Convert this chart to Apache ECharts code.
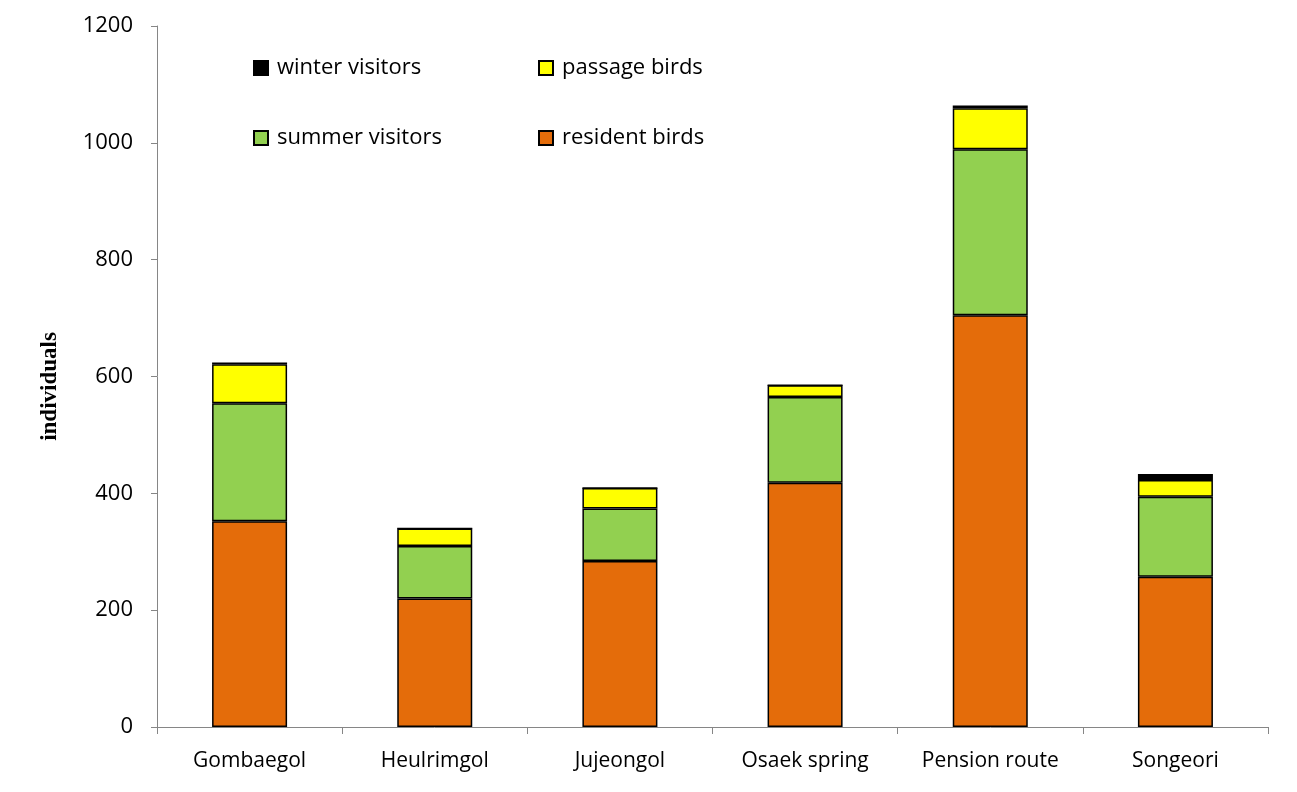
<!DOCTYPE html>
<html>
<head>
<meta charset="utf-8">
<script src="https://cdn.jsdelivr.net/npm/echarts@6/dist/echarts.min.js"></script>
<style>html,body{margin:0;padding:0;background:#fff}#c{width:1297px;height:792px}</style>
</head>
<body>
<div id="c"></div>
<script>
const categories = ['Gombaegol', 'Heulrimgol', 'Jujeongol', 'Osaek spring', 'Pension route', 'Songeori'];
const residentBirds = [352, 220, 284, 418, 705, 257];
const summerVisitors = [202, 90, 90, 147, 284, 137];
const passageBirds = [67, 30, 35, 20, 70, 29];
const winterVisitors = [3, 0, 0, 0, 5, 10];
const yTicks = { min: 0, max: 1200, interval: 200 };

const chart = echarts.init(document.getElementById('c'));
const font = 'Open Sans';
const mk = (name, data, color) => ({
  name, type: 'bar', stack: 'all', data, barWidth: 75,
  itemStyle: { color, borderColor: '#000', borderWidth: 1.5 },
  emphasis: { disabled: true }
});
const legendBase = {
  itemWidth: 14, itemHeight: 14, itemGap: 7, icon: 'rect',
  textStyle: { fontFamily: font, fontSize: 22, color: '#000', padding: [0, 0, 0, 4] },
  selectedMode: false
};
chart.setOption({
  animation: false,
  grid: { left: 157, top: 26, right: 29, bottom: 65, containLabel: false },
  legend: [
    Object.assign({ data: ['winter visitors'], left: 248, top: 52 }, legendBase),
    Object.assign({ data: ['passage birds'], left: 533, top: 52 }, legendBase),
    Object.assign({ data: ['summer visitors'], left: 248, top: 122 }, legendBase),
    Object.assign({ data: ['resident birds'], left: 533, top: 122 }, legendBase)
  ],
  xAxis: {
    type: 'category', data: categories,
    axisLine: { lineStyle: { color: '#868686', width: 1 } },
    axisTick: { show: true, length: 7, lineStyle: { color: '#868686' } },
    axisLabel: { fontFamily: font, fontSize: 21, color: '#000', margin: 24 }
  },
  yAxis: {
    type: 'value', min: yTicks.min, max: yTicks.max, interval: yTicks.interval,
    name: 'individuals', nameLocation: 'middle', nameGap: 95, nameRotate: 90,
    nameTextStyle: { fontFamily: 'Liberation Serif', fontSize: 23, fontWeight: 'bold', color: '#000', padding: [0, 20, 0, 0] },
    axisLine: { show: true, lineStyle: { color: '#868686', width: 1 } },
    axisTick: { show: true, length: 6, lineStyle: { color: '#868686' } },
    axisLabel: { fontFamily: font, fontSize: 22, color: '#000', margin: 24, formatter: v => String(v) },
    splitLine: { show: false }
  },
  series: [
    mk('resident birds', residentBirds, '#E46C0A'),
    mk('summer visitors', summerVisitors, '#92D050'),
    mk('passage birds', passageBirds, '#FFFF00'),
    mk('winter visitors', winterVisitors, '#000000')
  ]
});
</script>
</body>
</html>
